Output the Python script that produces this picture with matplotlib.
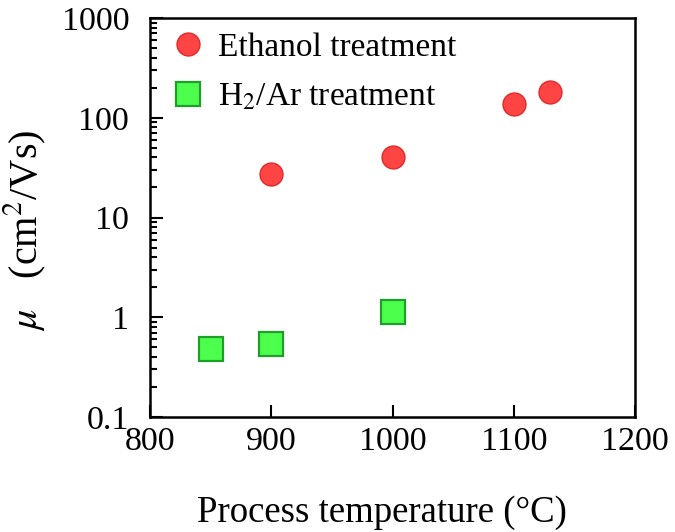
import matplotlib
matplotlib.use("Agg")
import matplotlib.pyplot as plt

# data
eth_temp = [900, 1000, 1100, 1130]
eth_mu = [27, 40, 137, 181]
h2_temp = [850, 900, 1000]
h2_mu = [0.48, 0.54, 1.13]

xticks = [800, 900, 1000, 1100, 1200]
yticks = [0.1, 1, 10, 100, 1000]
yticklabels = ['0.1', '1', '10', '100', '1000']

plt.rcParams['font.family'] = ['Liberation Serif', 'DejaVu Serif']
plt.rcParams['mathtext.fontset'] = 'stix'

fig = plt.figure(figsize=(6.75, 5.32), dpi=100)
ax = fig.add_axes([150 / 675, 1 - 417 / 532, 485 / 675, 399 / 532])

ax.plot(eth_temp, eth_mu, 'o', ms=16.5, mfc='#ff4444', mec='#e02a2a', mew=1,
        ls='none', label='Ethanol treatment')
ax.plot(h2_temp, h2_mu, 's', ms=17, mfc='#4dff4d', mec='#1f9f2a', mew=1.6,
        ls='none', label='H$_2$/Ar treatment')

ax.set_yscale('log')
ax.set_xlim(800, 1200)
ax.set_ylim(0.1, 1000)
ax.set_xticks(xticks)
ax.set_yticks(yticks)
ax.set_yticklabels(yticklabels)
ax.tick_params(axis='both', which='both', direction='in', labelsize=24.5,
               top=False, right=False, width=1.5)
ax.tick_params(axis='x', which='major', length=9, pad=7)
ax.tick_params(axis='y', which='major', length=9, pad=15)
ax.tick_params(axis='y', which='minor', length=5)
for s in ax.spines.values():
    s.set_linewidth(1.8)

ax.set_xlabel('Process temperature (°C)', fontsize=26.5)
ax.xaxis.set_label_coords(0.478, -0.197)
ax.set_ylabel(r'$\mu$   (cm$^2$/Vs)', fontsize=29)
ax.yaxis.set_label_coords(-0.21, 0.469)

leg = ax.legend(loc='upper left', frameon=False, fontsize=24, handletextpad=0.42,
                borderaxespad=0, borderpad=0, labelspacing=0.57, handlelength=1.0,
                bbox_to_anchor=(0.0435, 0.964))

fig.savefig('out.png', dpi=100)
